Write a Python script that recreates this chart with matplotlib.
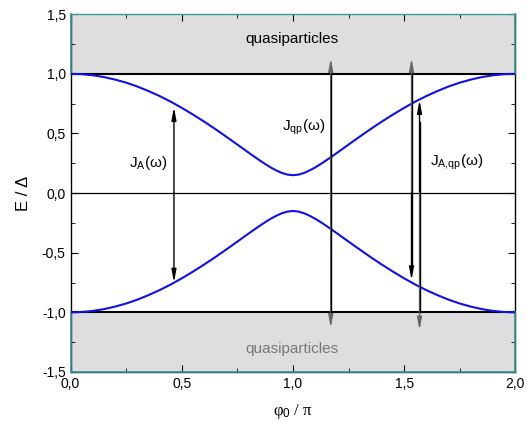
import matplotlib
matplotlib.use("Agg")
import matplotlib.pyplot as plt
import numpy as np

plt.rcParams['font.family'] = ['Liberation Sans', 'DejaVu Sans']
plt.rcParams['mathtext.fontset'] = 'custom'
plt.rcParams['mathtext.rm'] = 'Liberation Sans'
plt.rcParams['mathtext.it'] = 'Liberation Sans:italic'

# phase phi0/pi and upper Andreev level E/Delta
phi = [0.00, 0.05, 0.10, 0.15, 0.20, 0.25, 0.30, 0.35, 0.40, 0.45, 0.50,
       0.55, 0.60, 0.65, 0.70, 0.75, 0.80, 0.825, 0.85, 0.875, 0.90, 0.925, 0.95, 0.975, 1.00,
       1.025, 1.05, 1.075, 1.10, 1.125, 1.15, 1.175, 1.20, 1.25, 1.30, 1.35, 1.40, 1.45, 1.50,
       1.55, 1.60, 1.65, 1.70, 1.75, 1.80, 1.85, 1.90, 1.95, 2.00]
e_upper = [1.000, 0.997, 0.988, 0.973, 0.952, 0.926, 0.894, 0.856, 0.814, 0.767, 0.715,
           0.659, 0.600, 0.538, 0.473, 0.407, 0.340, 0.307, 0.275, 0.244, 0.215, 0.190, 0.169, 0.155, 0.150,
           0.155, 0.169, 0.190, 0.215, 0.244, 0.275, 0.307, 0.340, 0.407, 0.473, 0.538, 0.600, 0.659, 0.715,
           0.767, 0.814, 0.856, 0.894, 0.926, 0.952, 0.973, 0.988, 0.997, 1.000]
e_lower = [-v for v in e_upper]

xticks = [0.0, 0.5, 1.0, 1.5, 2.0]
yticks = [-1.5, -1.0, -0.5, 0.0, 0.5, 1.0, 1.5]

fig = plt.figure(figsize=(5.27, 4.30), dpi=100)
ax = fig.add_axes([0.1338, 0.1349, 0.978 - 0.1338, 0.967 - 0.1349])

ax.set_xlim(0, 2)
ax.set_ylim(-1.5, 1.5)

teal = '#3a9a9a'
ax.axhspan(1.0, 1.5, facecolor='#dedede', edgecolor='none', zorder=0.5)
ax.axhspan(-1.5, -1.0, facecolor='#dedede', edgecolor='none', zorder=0.5)
ax.axhline(1.0, color='black', lw=1.5, zorder=2)
ax.axhline(-1.0, color='black', lw=1.5, zorder=2)
ax.axhline(0.0, color='black', lw=0.9, zorder=2)

ax.plot(phi, e_upper, color='#1010e8', lw=1.5, zorder=4)
ax.plot(phi, e_lower, color='#1010e8', lw=1.5, zorder=4)

def arrow(x, y0, y1, color):
    ax.annotate('', xy=(x, y1), xytext=(x, y0),
                arrowprops=dict(arrowstyle='-|>,head_length=0.75,head_width=0.14',
                                color=color, lw=1.0, shrinkA=0, shrinkB=0),
                zorder=5)

grey = '#666666'
# J_A
arrow(0.465, 0.0, 0.72, 'black')
arrow(0.465, 0.0, -0.75, 'black')
# J_qp
arrow(1.17, 0.0, 1.13, grey)
arrow(1.17, 0.0, -1.13, grey)
ax.plot([1.17, 1.17], [-1.0, 1.0], color='black', lw=1.0, zorder=5)
# J_A,qp
arrow(1.533, 0.0, 1.13, grey)
arrow(1.533, 0.0, -0.73, 'black')
ax.plot([1.533, 1.533], [-0.6, 1.0], color='black', lw=1.0, zorder=5)
arrow(1.569, 0.0, 0.78, 'black')
arrow(1.569, 0.0, -1.15, grey)
ax.plot([1.569, 1.569], [-1.0, 0.6], color='black', lw=1.0, zorder=5)

ax.text(0.995, 1.295, 'quasiparticles', ha='center', va='center', fontsize=11, color='black')
ax.text(0.995, -1.31, 'quasiparticles', ha='center', va='center', fontsize=11, color='#777777')
ax.text(0.35, 0.25, r'J$_\mathrm{A}$($\mathrm{\omega}$)', ha='center', va='center', fontsize=11)
ax.text(1.05, 0.55, r'J$_\mathrm{qp}$($\mathrm{\omega}$)', ha='center', va='center', fontsize=11)
ax.text(1.735, 0.26, r'J$_\mathrm{A{,}qp}$($\mathrm{\omega}$)', ha='center', va='center', fontsize=11)

ax.set_xticks(xticks)
ax.set_xticklabels([f'{v:.1f}'.replace('.', ',') for v in xticks])
ax.set_yticks(yticks)
ax.set_yticklabels([f'{v:.1f}'.replace('.', ',') for v in yticks])
ax.set_xticks(np.arange(0, 2.01, 0.25), minor=True)
ax.set_yticks(np.arange(-1.5, 1.51, 0.25), minor=True)
ax.tick_params(which='both', direction='in', top=True, right=True, labelsize=10)
ax.tick_params(which='major', length=5)
ax.tick_params(which='minor', length=3)
for s in ax.spines.values():
    s.set_linewidth(1.0)
ax.spines['top'].set_color(teal)

# teal border of shaded regions on left/right sides
for yy in [(1.0, 1.5), (-1.5, -1.0)]:
    ax.plot([0, 0], yy, color=teal, lw=1.2, zorder=3, clip_on=False)
    ax.plot([2, 2], yy, color=teal, lw=1.2, zorder=3, clip_on=False)
ax.plot([0, 2], [-1.5, -1.5], color=teal, lw=1.2, zorder=3, clip_on=False)

ax.set_ylabel('E / Δ', fontsize=12, labelpad=8)
ax.set_xlabel(r'φ$_0$ / π', fontsize=12, labelpad=8,
              family=['Liberation Serif', 'DejaVu Serif'])

fig.savefig('out.png', dpi=100)
